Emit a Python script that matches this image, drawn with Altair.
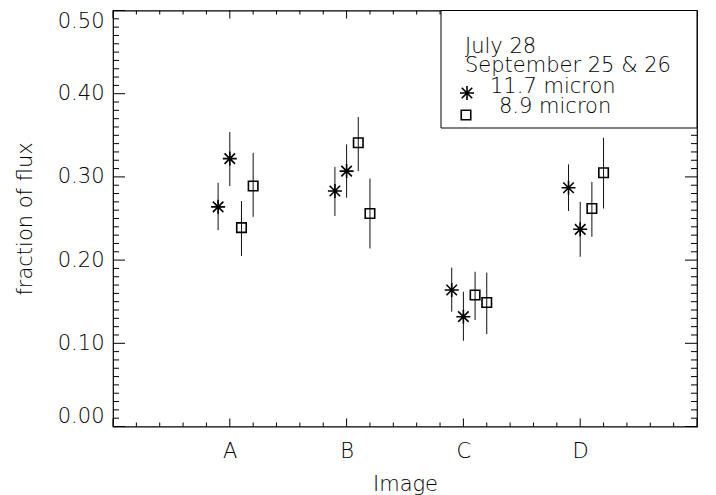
import altair as alt
import pandas as pd

# ---------------- data ----------------
images = ["A", "B", "C", "D"]
image_pos = [1, 2, 3, 4]
offsets = [-0.1, 0.0, 0.1, 0.2]
markers = ["ast", "ast", "sq", "sq"]
series = ["11.7 micron, July 28", "11.7 micron, September 25 & 26",
          "8.9 micron, July 28", "8.9 micron, September 25 & 26"]

val_s1 = [0.264, 0.283, 0.164, 0.287]
lo_s1 = [0.236, 0.253, 0.138, 0.259]
hi_s1 = [0.293, 0.312, 0.191, 0.315]

val_s2 = [0.322, 0.307, 0.132, 0.237]
lo_s2 = [0.289, 0.275, 0.103, 0.204]
hi_s2 = [0.354, 0.339, 0.162, 0.270]

val_s3 = [0.239, 0.341, 0.158, 0.262]
lo_s3 = [0.205, 0.307, 0.128, 0.228]
hi_s3 = [0.271, 0.372, 0.186, 0.294]

val_s4 = [0.289, 0.256, 0.149, 0.305]
lo_s4 = [0.252, 0.214, 0.111, 0.262]
hi_s4 = [0.329, 0.298, 0.185, 0.347]

y_labels = [0.0, 0.1, 0.2, 0.3, 0.4, 0.5]
legend_texts = ["July 28", "September 25 & 26", "11.7 micron", "8.9 micron"]

# ---------------- tables ----------------
vals = [val_s1, val_s2, val_s3, val_s4]
los = [lo_s1, lo_s2, lo_s3, lo_s4]
his = [hi_s1, hi_s2, hi_s3, hi_s4]
rows = []
for s in range(4):
    for i in range(4):
        rows.append(dict(image=images[i], series=series[s], marker=markers[s],
                         x=image_pos[i] + offsets[s], val=vals[s][i],
                         lo=los[s][i], hi=his[s][i]))
df = pd.DataFrame(rows)

yticks = pd.DataFrame({"v": [round(i * 0.01, 2) for i in range(51)]})
yticks["major"] = [i % 10 == 0 for i in range(51)]
xticks = pd.DataFrame({"v": [round(i * 0.2, 1) for i in range(26)]})
xticks["major"] = [i % 5 == 0 for i in range(26)]

# ---------------- styling ----------------
W, H = 584, 416
FONT = "DejaVu Sans"
FS = 21
FW = 200
AST = "M-1,0L1,0M0,-1L0,1M-0.75,-0.75L0.75,0.75M-0.75,0.75L0.75,-0.75"

xs = alt.Scale(domain=[0, 5], nice=False, zero=False)
ys = alt.Scale(domain=[0, 0.5], nice=False, zero=False)

xaxis = alt.Axis(values=image_pos, labelExpr="['', 'A', 'B', 'C', 'D'][datum.value]",
                 ticks=False, domain=False, grid=False, labelPadding=14,
                 labelFont=FONT, labelFontSize=FS, labelFontWeight=FW, labelColor="black",
                 titleFont=FONT, titleFontSize=FS, titleFontWeight=FW, titleColor="black",
                 titlePadding=12)
yaxis = alt.Axis(values=y_labels, format=".2f", ticks=False, domain=False, grid=False,
                 labelPadding=9, labelFlush=True,
                 labelFont=FONT, labelFontSize=FS, labelFontWeight=FW, labelColor="black",
                 titleFont=FONT, titleFontSize=FS, titleFontWeight=FW, titleColor="black",
                 titlePadding=22)

X = lambda f: alt.X(f, scale=xs, axis=xaxis, title="Image")
Y = lambda f: alt.Y(f, scale=ys, axis=yaxis, title="fraction of flux")

base = alt.Chart(df)
err = base.mark_rule(color="#111", strokeWidth=1).encode(x=X("x:Q"), y=Y("lo:Q"), y2="hi:Q")
ast = base.transform_filter("datum.marker == 'ast'").mark_point(
    shape=AST, size=196, filled=False, stroke="black", strokeWidth=1.6, opacity=1
).encode(x=X("x:Q"), y=Y("val:Q"))
sq = base.transform_filter("datum.marker == 'sq'").mark_point(
    shape="square", size=90, filled=False, stroke="black", strokeWidth=1.6, opacity=1
).encode(x=X("x:Q"), y=Y("val:Q"))

# inward ticks on all four sides
def yrule(major, left):
    ln = 12 if major else 6
    x1, x2 = (0, ln) if left else (W - ln, W)
    return alt.Chart(yticks).transform_filter(
        "datum.major" if major else "!datum.major"
    ).mark_rule(color="black", strokeWidth=1).encode(
        y=Y("v:Q"), x=alt.value(x1), x2=alt.value(x2))

def xrule(major, bottom):
    ln = 8 if major else 4
    y1, y2 = (H - ln, H) if bottom else (0, ln)
    return alt.Chart(xticks).transform_filter(
        "datum.major" if major else "!datum.major"
    ).mark_rule(color="black", strokeWidth=1).encode(
        x=X("v:Q"), y=alt.value(y1), y2=alt.value(y2))

ticks = [yrule(m, s) for m in (True, False) for s in (True, False)] + \
        [xrule(m, s) for m in (True, False) for s in (True, False)]

# legend box
one = pd.DataFrame({"t": legend_texts})
box = alt.Chart(one.head(1)).mark_rect(fill="white", stroke="black", strokeWidth=1).encode(
    x=alt.value(328), x2=alt.value(W), y=alt.value(0), y2=alt.value(117.5))

def ltext(i, x, y):
    return alt.Chart(one.iloc[[i]]).mark_text(
        align="left", baseline="middle", font=FONT, fontSize=FS, fontWeight=FW, color="black"
    ).encode(x=alt.value(x), y=alt.value(y), text="t:N")

leg = [ltext(0, 352, 36), ltext(1, 352, 55), ltext(2, 377, 76.5), ltext(3, 386, 96)]
leg_ast = alt.Chart(one.head(1)).mark_point(
    shape=AST, size=196, filled=False, stroke="black", strokeWidth=1.6, opacity=1
).encode(x=alt.value(354), y=alt.value(82.5))
leg_sq = alt.Chart(one.head(1)).mark_point(
    shape="square", size=90, filled=False, stroke="black", strokeWidth=1.6, opacity=1
).encode(x=alt.value(353), y=alt.value(104.5))

chart = alt.layer(err, *ticks, box, *leg, leg_ast, leg_sq, ast, sq).properties(
    width=W, height=H,
    autosize=alt.AutoSizeParams(type="none"),
    padding={"left": 105, "top": 2.5, "right": 8, "bottom": 68},
    background="white",
).configure_view(stroke="black", strokeWidth=1.2)

chart.save("out.html", embed_options={"renderer": "svg", "actions": False})
